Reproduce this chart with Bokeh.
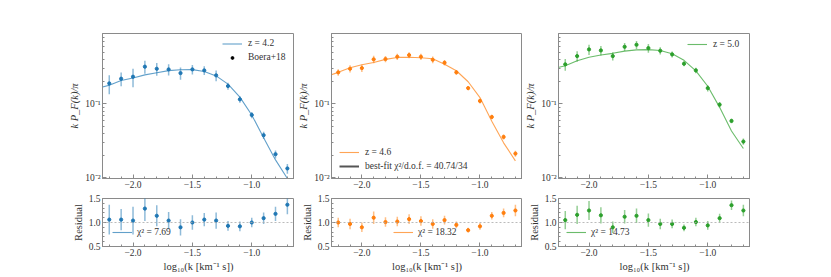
from bokeh.plotting import figure
from bokeh.models import (ColumnDataSource, FixedTicker, Span, Legend, LegendItem,
                          CustomJSTickFormatter, Range1d)
from bokeh.layouts import row, column
from bokeh.embed import file_html
from bokeh.resources import INLINE

NAN = float("nan")

# ---------------- data ----------------
log_k = [-2.2, -2.1, -2.0, -1.9, -1.8, -1.7, -1.6, -1.5,
         -1.4, -1.3, -1.2, -1.1, -1.0, -0.9, -0.8, -0.7]
model_log_k = [-2.3] + log_k

# z = 4.2
z42_flux = [0.190, 0.220, 0.234, 0.320, 0.300, 0.294, 0.262, 0.294,
            0.285, 0.244, 0.175, 0.1156, 0.071, 0.0378, 0.0209, 0.0134]
z42_err = [0.055, 0.046, 0.065, 0.064, 0.058, 0.051, 0.049, 0.044,
           0.038, 0.041, 0.019, 0.012, 0.007, 0.0042, 0.0026, 0.0020]
z42_model = [0.163, 0.179, 0.208, 0.225, 0.248, 0.265, 0.283, 0.291, 0.292,
             0.275, 0.240, 0.186, 0.124, 0.071, 0.035, 0.0175, 0.0098]
z42_resid = [1.06, 1.06, 1.04, 1.29, 1.14, 1.04, 0.90, 1.00,
             1.06, 1.04, 0.93, 0.92, 1.00, 1.09, 1.18, 1.37]
z42_resid_err = [0.31, 0.22, 0.29, 0.26, 0.22, 0.18, 0.17, 0.15,
                 0.14, 0.17, 0.10, 0.10, 0.10, 0.12, 0.15, 0.20]

# z = 4.6
z46_flux = [0.268, 0.300, 0.306, 0.402, 0.406, 0.436, 0.459, 0.436,
            0.397, 0.362, 0.268, 0.164, 0.110, 0.0667, 0.0358, 0.0213]
z46_err = [0.027, 0.034, 0.034, 0.047, 0.040, 0.043, 0.043, 0.042,
           0.041, 0.031, 0.020, 0.010, 0.0085, 0.0047, 0.0027, 0.0020]
z46_model = [0.235, 0.268, 0.309, 0.340, 0.365, 0.402, 0.427, 0.429, 0.423,
             0.409, 0.345, 0.282, 0.200, 0.122, 0.0585, 0.0298, 0.0170]
z46_resid = [1.00, 0.97, 0.90, 1.10, 1.01, 1.02, 1.07, 1.03,
             0.97, 1.05, 0.95, 0.84, 0.92, 1.14, 1.20, 1.25]
z46_resid_err = [0.10, 0.11, 0.10, 0.13, 0.10, 0.10, 0.10, 0.10,
                 0.10, 0.09, 0.07, 0.05, 0.07, 0.08, 0.09, 0.12]

# z = 5.0
z50_flux = [0.344, 0.445, 0.548, 0.531, 0.445, 0.595, 0.634, 0.571,
            0.526, 0.469, 0.351, 0.285, 0.164, 0.098, 0.059, 0.031]
z50_err = [0.063, 0.073, 0.086, 0.078, 0.058, 0.073, 0.081, 0.076,
           0.058, 0.043, 0.027, 0.025, 0.016, 0.008, 0.0043, 0.0030]
z50_model = [0.300, 0.330, 0.385, 0.430, 0.460, 0.485, 0.520, 0.540, 0.545,
             0.530, 0.480, 0.390, 0.280, 0.174, 0.090, 0.043, 0.025]
z50_resid = [1.05, 1.16, 1.25, 1.15, 0.90, 1.12, 1.14, 1.05,
             0.97, 0.97, 0.89, 1.01, 0.94, 1.09, 1.36, 1.25]
z50_resid_err = [0.19, 0.19, 0.20, 0.17, 0.12, 0.14, 0.15, 0.14,
                 0.11, 0.09, 0.07, 0.09, 0.09, 0.09, 0.10, 0.12]

x_ticks = [-2.0, -1.5, -1.0]
x_tick_labels = ["−2.0", "−1.5", "−1.0"]
logy_ticks = [0.01, 0.1]
logy_tick_labels = ["10⁻²", "10⁻¹"]
res_ticks = [0.5, 1.0, 1.5]
res_tick_labels = ["0.5", "1.0", "1.5"]

redshift_labels = ["z = 4.2", "z = 4.6", "z = 5.0"]
chi2_labels = ["χ² = 7.69", "χ² = 18.32", "χ² = 14.73"]
data_label = "Boera+18"
bestfit_label = "best-fit χ²/d.o.f. = 40.74/34"

colors = ["#1f77b4", "#ff7f0e", "#2ca02c"]

# ---------------- styling ----------------
FONT = "Liberation Serif"
TXT = "#333333"
SPINE = "#8a8a8a"
XR = (-2.257, -0.64)
YR = (0.0098, 0.9)
RR = (0.5, 1.5)


def fmt(tick_vals, tick_labels):
    return CustomJSTickFormatter(args=dict(tv=tick_vals, tl=tick_labels), code="""
        for (let i = 0; i < tv.length; i++) {
            if (Math.abs(tv[i] - tick) <= 1e-6 * Math.max(1e-3, Math.abs(tv[i]))) return tl[i];
        }
        return '';
    """)


def style_axis(ax):
    ax.axis_line_color = SPINE
    ax.major_tick_line_color = SPINE
    ax.minor_tick_line_color = SPINE
    ax.major_tick_in = 4
    ax.major_tick_out = 0
    ax.minor_tick_in = 2
    ax.minor_tick_out = 0
    ax.major_label_text_font = FONT
    ax.major_label_text_font_size = "9.5px"
    ax.major_label_text_color = TXT
    ax.major_label_standoff = 2
    ax.axis_label_text_font = FONT
    ax.axis_label_text_font_size = "10.5px"
    ax.axis_label_text_font_style = "normal"
    ax.axis_label_text_color = TXT
    ax.axis_label_standoff = 2


x_minor = [round(-2.2 + 0.1 * i, 1) for i in range(16)]
logy_minor = [m * 0.01 for m in range(2, 10)] + [m * 0.1 for m in range(2, 10)]
res_minor = [round(0.5 + 0.1 * i, 1) for i in range(11)]

frame_ws = [192, 191, 192]
borders_left = [102, 37, 36]
top_border_top, top_frame_h, top_border_bottom = 33, 145, 14
bot_border_top, bot_frame_h, bot_border_bottom = 6, 48, 31

model_sets = [z42_model, z46_model, z50_model]
flux_sets = [z42_flux, z46_flux, z50_flux]
err_sets = [z42_err, z46_err, z50_err]
res_sets = [z42_resid, z46_resid, z50_resid]
reserr_sets = [z42_resid_err, z46_resid_err, z50_resid_err]

cols = []
for i in range(3):
    c = colors[i]
    w = borders_left[i] + frame_ws[i]
    top = figure(width=w, height=top_border_top + top_frame_h + top_border_bottom,
                 x_range=Range1d(*XR), y_range=Range1d(*YR), y_axis_type="log",
                 output_backend="svg", toolbar_location=None,
                 min_border_left=borders_left[i], min_border_right=0,
                 min_border_top=top_border_top, min_border_bottom=top_border_bottom)
    bot = figure(width=w, height=bot_border_top + bot_frame_h + bot_border_bottom,
                 x_range=top.x_range, y_range=Range1d(*RR),
                 output_backend="svg", toolbar_location=None,
                 min_border_left=borders_left[i], min_border_right=0,
                 min_border_top=bot_border_top, min_border_bottom=bot_border_bottom)
    for p in (top, bot):
        p.grid.visible = False
        p.outline_line_color = SPINE
        p.outline_line_width = 1
        p.background_fill_color = "white"
        p.border_fill_color = "white"
        style_axis(p.xaxis[0])
        style_axis(p.yaxis[0])
        p.xaxis.ticker = FixedTicker(ticks=x_ticks, minor_ticks=x_minor)
        p.xaxis.formatter = fmt(x_ticks, x_tick_labels)

    top.yaxis.ticker = FixedTicker(ticks=logy_ticks, minor_ticks=logy_minor)
    top.yaxis.formatter = fmt(logy_ticks, logy_tick_labels)
    top.yaxis.axis_label = "k P_F(k)/π"
    top.yaxis.axis_label_text_font_style = "italic"
    bot.yaxis.ticker = FixedTicker(ticks=res_ticks, minor_ticks=res_minor)
    bot.yaxis.formatter = fmt(res_ticks, res_tick_labels)
    bot.yaxis.axis_label = "Residual"
    bot.xaxis.axis_label = "log₁₀(k [km⁻¹ s])"

    # top panel
    msrc = ColumnDataSource(dict(x=model_log_k, y=model_sets[i]))
    mline = top.line("x", "y", source=msrc, line_color=c, line_width=1.1, line_alpha=0.7)
    f = flux_sets[i]
    e = err_sets[i]
    dsrc = ColumnDataSource(dict(x=log_k, y=f,
                                 lo=[a - b for a, b in zip(f, e)],
                                 hi=[a + b for a, b in zip(f, e)]))
    top.segment("x", "lo", "x", "hi", source=dsrc, line_color=c, line_width=1.5, line_alpha=0.5)
    top.scatter("x", "y", source=dsrc, marker="circle", size=3.2, color=c)

    items = [LegendItem(label=redshift_labels[i], renderers=[mline])]
    gh = 12
    if i == 0:
        dummy = top.scatter(x=[NAN], y=[NAN], marker="circle", size=3, color="black")
        items.append(LegendItem(label=data_label, renderers=[dummy]))
        loc = (120, 115)
        gh = 7
    elif i == 1:
        dummy = top.line(x=[NAN], y=[NAN], line_color="#555555", line_width=2)
        items.append(LegendItem(label=bestfit_label, renderers=[dummy]))
        loc = (8, 6)
    else:
        loc = (129, 128)
    leg = Legend(items=items, location=loc, background_fill_alpha=0,
                 border_line_alpha=0, padding=0, margin=0, spacing=2,
                 glyph_width=20, glyph_height=gh, label_standoff=6,
                 label_text_font=FONT, label_text_font_size="9.5px",
                 label_text_color=TXT, label_height=12)
    top.add_layout(leg)

    # residual panel
    r = res_sets[i]
    re = reserr_sets[i]
    rsrc = ColumnDataSource(dict(x=log_k, y=r,
                                 lo=[a - b for a, b in zip(r, re)],
                                 hi=[a + b for a, b in zip(r, re)]))
    bot.add_layout(Span(location=1.0, dimension="width", line_color="#aaaaaa",
                        line_dash="2 2", line_width=0.8))
    rline = bot.line(x=[NAN], y=[NAN], line_color=c, line_width=1.1, line_alpha=0.7)
    bot.segment("x", "lo", "x", "hi", source=rsrc, line_color=c, line_width=1.5, line_alpha=0.5)
    bot.scatter("x", "y", source=rsrc, marker="circle", size=3.2, color=c)
    rloc = [(10, 8), (62, 8), (8, 8)][i]
    rleg = Legend(items=[LegendItem(label=chi2_labels[i], renderers=[rline])],
                  location=rloc, background_fill_alpha=0, border_line_alpha=0,
                  padding=0, margin=0, glyph_width=20, glyph_height=12,
                  label_standoff=5, label_text_font=FONT, label_text_font_size="9.5px",
                  label_text_color=TXT, label_height=12)
    bot.add_layout(rleg)

    cols.append(column(top, bot, spacing=0))

layout = row(*cols, spacing=0)
open("out.html", "w").write(file_html(layout, INLINE))
